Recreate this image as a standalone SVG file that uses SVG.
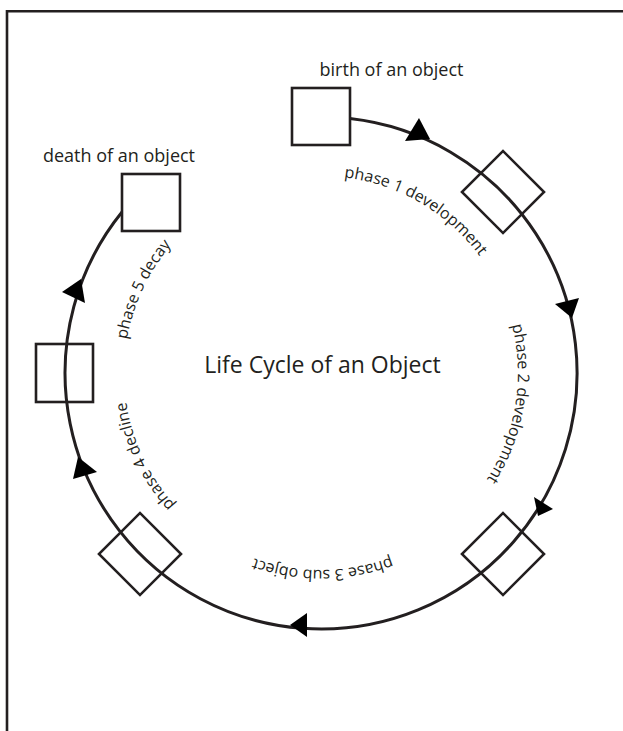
<svg xmlns="http://www.w3.org/2000/svg" width="623" height="731" viewBox="0 0 623 731">
  <defs>
    <style>
      .box { fill: none; stroke: #231f20; stroke-width: 2.6; }
      .ring { fill: none; stroke: #231f20; stroke-width: 3; }
      .head { fill: #000000; stroke: none; }
      .lbl { font-family: "Open Sans", "Liberation Sans", sans-serif; fill: #231f20; }
      .lab { font-size: 18px; text-anchor: middle; }
      .arc { font-size: 16px; text-anchor: middle; }
      .title { font-size: 23px; text-anchor: middle; }
    </style>
    <path id="textRing" d="M 321 176 A 197 197 0 0 1 321 570 A 197 197 0 0 1 321 176"/>
  </defs>
  <rect x="0" y="0" width="623" height="731" fill="#ffffff"/>
  <path d="M 7 731 L 7 11.3 L 623 11.3" fill="none" stroke="#231f20" stroke-width="2.6"/>

  <g id="connectors">
    <path class="ring" d="M 350 118.6 A 256 256 0 1 1 122 212"/>
    <polygon class="head" points="405,141 419,118 430,139"/>
    <polygon class="head" points="555,304 579,298 572,318"/>
    <polygon class="head" points="534,497 553,509 538,516"/>
    <polygon class="head" points="290,625 307,613 307,637"/>
    <polygon class="head" points="78,457 97,472 73,479"/>
    <polygon class="head" points="81,279 62,292 85,303"/>
  </g>

  <g id="birth">
    <rect class="box" x="292" y="88" width="58" height="57"/>
    <text class="lbl lab" x="391.5" y="76">birth of an object</text>
  </g>
  <g id="phase1">
    <rect class="box" x="-29" y="-29" width="58" height="58" transform="translate(503 192) rotate(45)"/>
    <text class="lbl arc"><textPath href="#textRing" startOffset="103.8">phase 1 development</textPath></text>
  </g>
  <g id="phase2">
    <text class="lbl arc"><textPath href="#textRing" startOffset="341.2">phase 2 development</textPath></text>
  </g>
  <g id="phase3">
    <rect class="box" x="-29" y="-29" width="58" height="58" transform="translate(503 554) rotate(45)"/>
    <text class="lbl arc"><textPath href="#textRing" startOffset="616.8">phase 3 sub object</textPath></text>
  </g>
  <g id="phase4">
    <rect class="box" x="-29" y="-29" width="58" height="58" transform="translate(140 554) rotate(45)"/>
    <text class="lbl arc"><textPath href="#textRing" startOffset="840.7">phase 4 decline</textPath></text>
  </g>
  <g id="phase5">
    <rect class="box" x="36" y="344" width="57" height="58"/>
    <text class="lbl arc"><textPath href="#textRing" startOffset="1014.3">phase 5 decay</textPath></text>
  </g>
  <g id="death">
    <rect class="box" x="122" y="174" width="58" height="57"/>
    <text class="lbl lab" x="119" y="162">death of an object</text>
  </g>
  <g id="title">
    <text class="lbl title" x="322.5" y="373">Life Cycle of an Object</text>
  </g>
</svg>
